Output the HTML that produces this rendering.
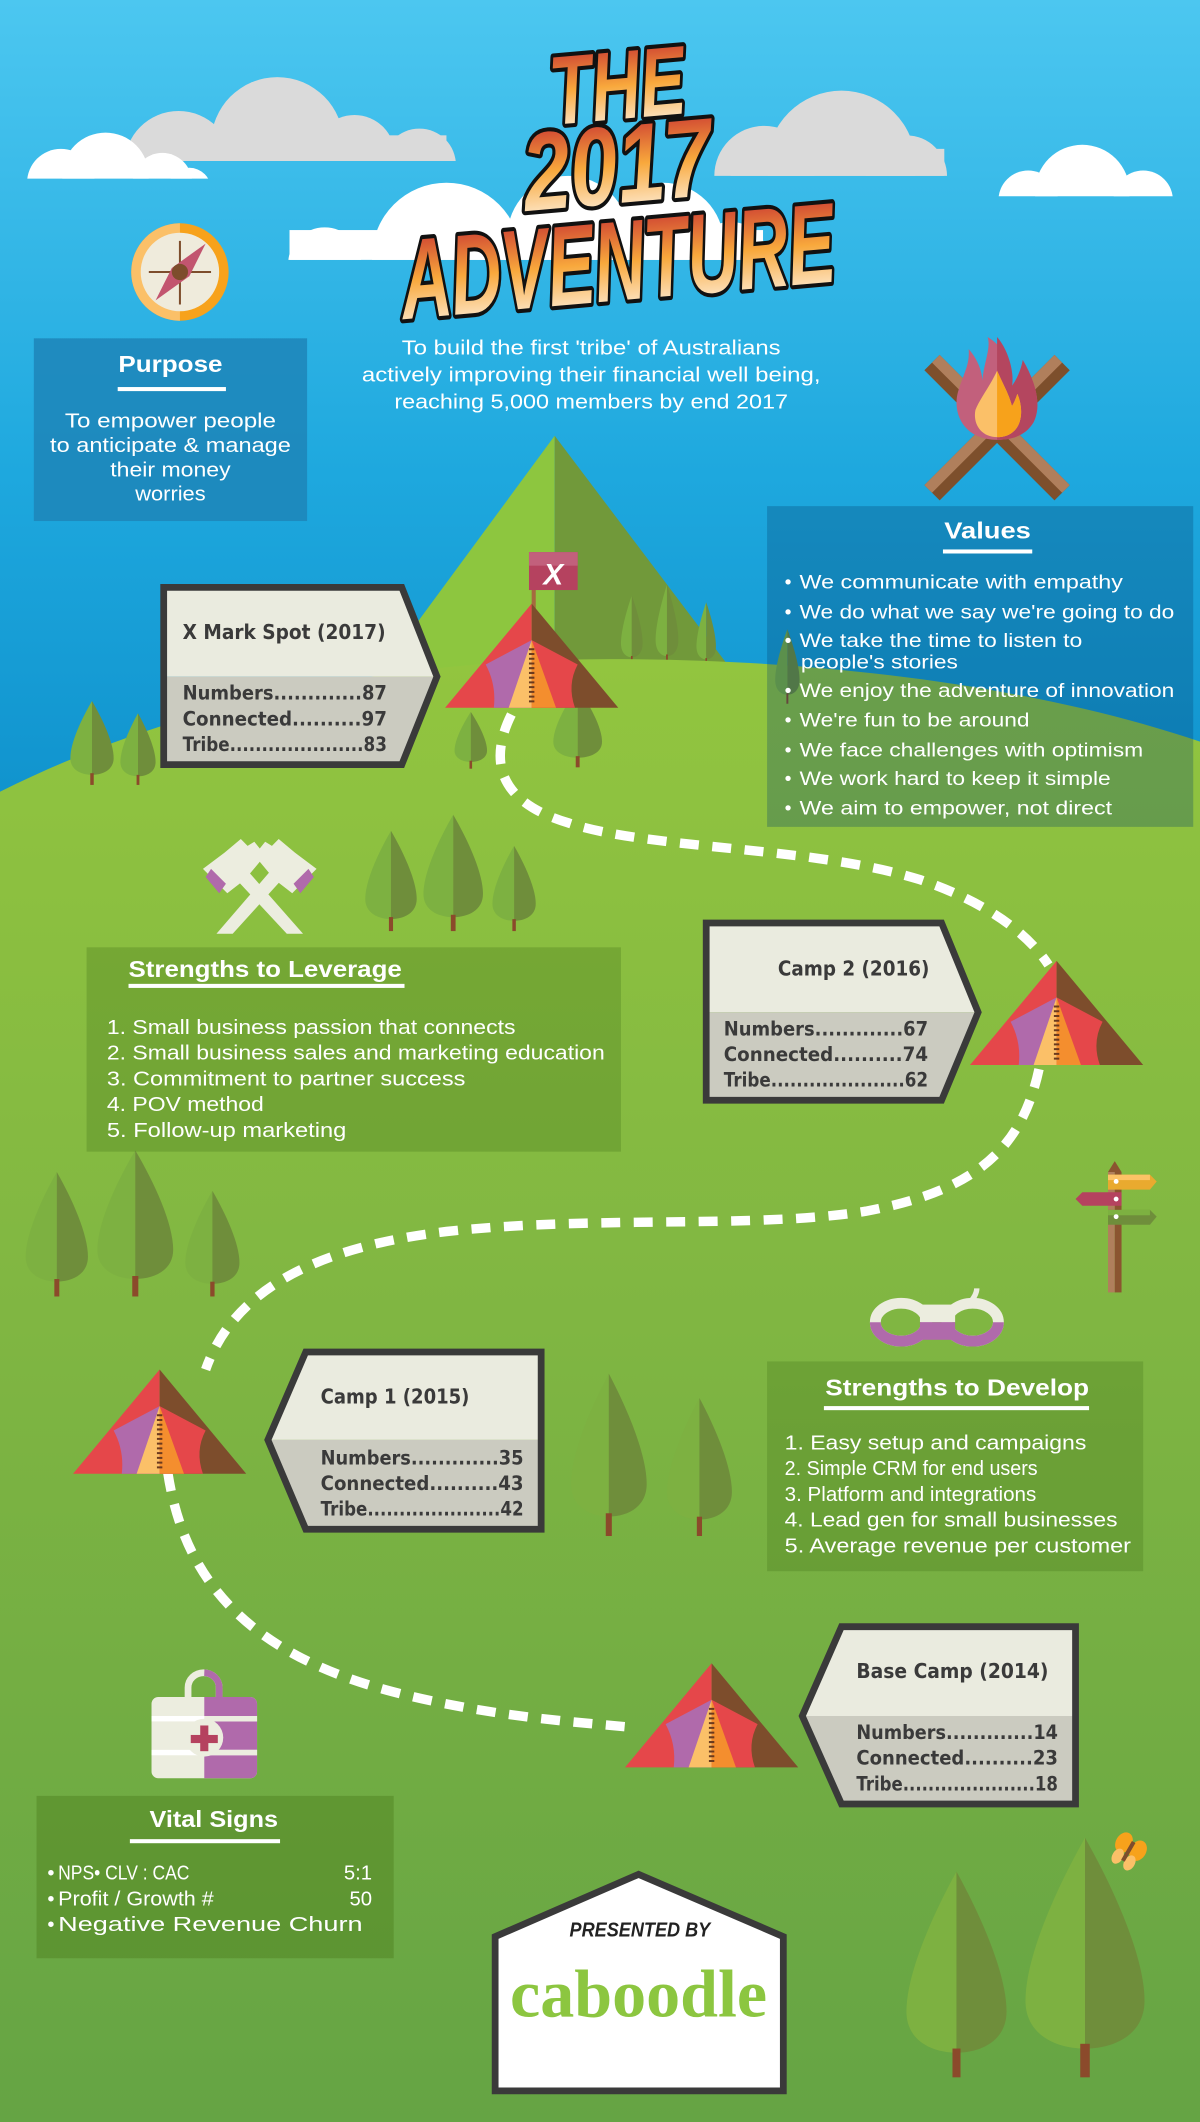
<!DOCTYPE html>
<html><head><meta charset="utf-8"><style>
html,body{margin:0;padding:0;width:1200px;height:2122px;overflow:hidden;background:#7bb342}
svg{display:block}
.w{fill:#fff;font-family:"Liberation Sans",sans-serif}
.s{fill:#3a3a3a;font-family:"DejaVu Sans","Liberation Sans",sans-serif;font-weight:bold}
</style></head><body>
<svg width="1200" height="2122" viewBox="0 0 887 1568" preserveAspectRatio="none" xmlns="http://www.w3.org/2000/svg">
<defs>
<linearGradient id="sky" x1="0" y1="0" x2="0" y2="1"><stop offset="0" stop-color="#4cc7f0"/><stop offset="0.5" stop-color="#1ea8de"/><stop offset="1" stop-color="#0a8ac6"/></linearGradient>
<linearGradient id="gr" x1="0" y1="0" x2="0" y2="1"><stop offset="0" stop-color="#92c53f"/><stop offset="0.45" stop-color="#80b642"/><stop offset="1" stop-color="#65a444"/></linearGradient>
<linearGradient id="tg" x1="0" y1="0" x2="0" y2="1"><stop offset="0" stop-color="#bf1e2e"/><stop offset="0.5" stop-color="#f8a83c"/><stop offset="1" stop-color="#ffffff"/></linearGradient>
<g id="tent">
<polygon points="64,0 0,77 64,77" fill="#e5474a"/>
<polygon points="64,0 128,77 64,77" fill="#7d4d2c"/>
<path d="M64,27 L98,45 Q90,60 96,77 L64,77Z" fill="#e5474a"/>
<path d="M64,27 L30,45 Q38,60 36,77 L64,77Z" fill="#b06aab"/>
<polygon points="64,27 47,77 64,77" fill="#fbc068"/>
<polygon points="64,27 64,77 82,77" fill="#f48e2e"/>
<line x1="64" y1="33" x2="64" y2="75" stroke="#6b3a1e" stroke-width="4" stroke-dasharray="1.5 2"/>
</g>
<g id="tree">
<path d="M0,0 C-10,22 -20,50 -20,68 C-20,82 -10,88 0,88Z" fill="#7db141"/>
<path d="M0,0 C10,22 20,50 20,68 C20,82 10,88 0,88Z" fill="#6f8e3b"/>
<rect x="-1.6" y="86" width="3.2" height="14" fill="#8b4a2b"/>
</g>
<clipPath id="c1"><rect x="0" y="0" width="887" height="119"/></clipPath>
<clipPath id="c2"><rect x="0" y="0" width="887" height="132"/></clipPath>
<clipPath id="c3"><rect x="0" y="0" width="887" height="130"/></clipPath>
<clipPath id="c4"><rect x="0" y="0" width="887" height="145"/></clipPath>
<clipPath id="c5"><rect x="0" y="0" width="887" height="192"/></clipPath>
</defs>

<rect x="0" y="0" width="887" height="700" fill="url(#sky)"/>

<!-- clouds -->
<g fill="#dadada" clip-path="url(#c1)"><circle cx="132" cy="122" r="40"/><circle cx="205" cy="106" r="49"/><circle cx="262" cy="115" r="30"/><circle cx="310" cy="122" r="27"/><rect x="120" y="100" width="210" height="30"/></g>
<g fill="#dadada" clip-path="url(#c3)"><circle cx="565" cy="130" r="37"/><circle cx="622" cy="122" r="55"/><circle cx="670" cy="130" r="30"/><rect x="540" y="110" width="158" height="30"/></g>
<g fill="#fff" clip-path="url(#c2)"><circle cx="45" cy="135" r="25"/><circle cx="78" cy="130" r="32"/><circle cx="120" cy="135" r="22"/><circle cx="140" cy="140" r="16"/></g>
<g fill="#fff" clip-path="url(#c4)"><circle cx="760" cy="148" r="22"/><circle cx="800" cy="142" r="35"/><circle cx="845" cy="148" r="22"/></g>
<g fill="#fff" clip-path="url(#c5)"><circle cx="240" cy="195" r="27"/><circle cx="330" cy="190" r="55"/><circle cx="420" cy="175" r="45"/><circle cx="490" cy="180" r="45"/><circle cx="540" cy="192" r="28"/><rect x="214" y="170" width="350" height="30"/></g>

<!-- title -->
<g font-family="'Liberation Sans',sans-serif" font-weight="900" font-style="italic" fill="url(#tg)" stroke="#111" stroke-width="6" paint-order="stroke" stroke-linejoin="round" text-anchor="middle">
<text x="456" y="88" font-size="72" textLength="100" lengthAdjust="spacingAndGlyphs" transform="rotate(-5 456 60)">THE</text>
<text x="456" y="150" font-size="82" textLength="140" lengthAdjust="spacingAndGlyphs" transform="rotate(-5 456 120)">2017</text>
<text x="456" y="222" font-size="84" textLength="322" lengthAdjust="spacingAndGlyphs" transform="rotate(-5 456 190)">ADVENTURE</text>
</g>

<!-- compass -->
<circle cx="133" cy="201" r="36" fill="#f7a21b"/>
<path d="M133,165 A36,36 0 0,0 133,237Z" fill="#fbc068"/>
<circle cx="133" cy="201" r="29" fill="#efebdc"/>
<line x1="133" y1="178" x2="133" y2="225" stroke="#7d4d2c" stroke-width="1.5"/>
<line x1="110" y1="201" x2="156" y2="201" stroke="#7d4d2c" stroke-width="1.5"/>
<polygon points="152,180 140,204 115,222 127,198" fill="#c2556f"/>
<circle cx="133" cy="201" r="6" fill="#7d4d2c"/>

<!-- purpose -->
<rect x="25" y="250" width="202" height="135" fill="#1d85b8" opacity="0.85"/>
<text class="w" x="126" y="275" font-size="17" font-weight="bold" text-anchor="middle" textLength="77" lengthAdjust="spacingAndGlyphs">Purpose</text>
<rect x="87" y="286" width="80" height="3" fill="#fff"/>
<g class="w" font-size="15" text-anchor="middle">
<text x="126" y="316" textLength="156" lengthAdjust="spacingAndGlyphs">To empower people</text>
<text x="126" y="334" textLength="178" lengthAdjust="spacingAndGlyphs">to anticipate &amp; manage</text>
<text x="126" y="352" textLength="89" lengthAdjust="spacingAndGlyphs">their money</text>
<text x="126" y="370" textLength="52" lengthAdjust="spacingAndGlyphs">worries</text>
</g>

<!-- mission -->
<g class="w" font-size="15" text-anchor="middle">
<text x="437" y="262" textLength="280" lengthAdjust="spacingAndGlyphs">To build the first 'tribe' of Australians</text>
<text x="437" y="282" textLength="339" lengthAdjust="spacingAndGlyphs">actively improving their financial well being,</text>
<text x="437" y="302" textLength="291" lengthAdjust="spacingAndGlyphs">reaching 5,000 members by end 2017</text>
</g>

<!-- fire -->
<g transform="translate(737,316) rotate(45)"><rect x="-68" y="-8" width="136" height="16" fill="#7d4f2c"/><rect x="-68" y="-8" width="136" height="8" fill="#b07f5c"/></g>
<g transform="translate(737,316) rotate(-45)"><rect x="-68" y="-8" width="136" height="16" fill="#7d4f2c"/><rect x="-68" y="-8" width="136" height="8" fill="#b07f5c"/></g>
<path d="M737,325 C712,325 704,305 708,290 C712,276 717,270 716,258 C725,268 727,280 726,285 C726,270 733,258 730,249 C745,258 750,275 748,285 C752,280 755,272 756,266 C766,283 770,300 764,312 C758,322 748,325 737,325Z" fill="#c2607c"/>
<path d="M737,325 L737,249 C745,258 750,275 748,285 C752,280 755,272 756,266 C766,283 770,300 764,312 C758,322 748,325 737,325Z" fill="#b4465f"/>
<path d="M737,323 C725,323 719,313 721,303 C724,295 732,285 737,274 C742,285 746,292 748,300 C750,297 751,294 752,291 C756,300 756,312 750,318 C746,322 742,323 737,323Z" fill="#fbc068"/>
<path d="M737,323 L737,274 C742,285 746,292 748,300 C750,297 751,294 752,291 C756,300 756,312 750,318 C746,322 742,323 737,323Z" fill="#f7a21b"/>

<!-- mountain -->
<polygon points="410,322 220,580 410,580" fill="#8dc63f"/>
<polygon points="410,322 620,600 410,600" fill="#71993a"/>
<use href="#tree" transform="translate(467,440) scale(0.4,0.52)"/>
<use href="#tree" transform="translate(493,432) scale(0.42,0.6)"/>
<use href="#tree" transform="translate(522,445) scale(0.36,0.48)"/>

<!-- hill -->
<path d="M0,585 C140,515 300,487 450,487 C640,487 790,515 887,548 L887,1568 L0,1568Z" fill="url(#gr)"/>

<use href="#tree" transform="translate(582,465) scale(0.45,0.55)"/>

<!-- values -->
<rect x="567" y="374" width="315" height="237" fill="#043c6a" opacity="0.28"/>
<text class="w" x="730" y="398" font-size="17" font-weight="bold" text-anchor="middle" textLength="64" lengthAdjust="spacingAndGlyphs">Values</text>
<rect x="697" y="406" width="66" height="3" fill="#fff"/>
<g class="w" font-size="14.5">
<text x="580" y="435">•</text><text x="591" y="435" textLength="239" lengthAdjust="spacingAndGlyphs">We communicate with empathy</text>
<text x="580" y="457">•</text><text x="591" y="457" textLength="277" lengthAdjust="spacingAndGlyphs">We do what we say we're going to do</text>
<text x="580" y="478">•</text><text x="591" y="478" textLength="209" lengthAdjust="spacingAndGlyphs">We take the time to listen to</text>
<text x="592" y="494" textLength="116" lengthAdjust="spacingAndGlyphs">people's stories</text>
<text x="580" y="515">•</text><text x="591" y="515" textLength="277" lengthAdjust="spacingAndGlyphs">We enjoy the adventure of innovation</text>
<text x="580" y="537">•</text><text x="591" y="537" textLength="170" lengthAdjust="spacingAndGlyphs">We're fun to be around</text>
<text x="580" y="559">•</text><text x="591" y="559" textLength="254" lengthAdjust="spacingAndGlyphs">We face challenges with optimism</text>
<text x="580" y="580">•</text><text x="591" y="580" textLength="230" lengthAdjust="spacingAndGlyphs">We work hard to keep it simple</text>
<text x="580" y="602">•</text><text x="591" y="602" textLength="231" lengthAdjust="spacingAndGlyphs">We aim to empower, not direct</text>
</g>

<!-- dashed path -->
<g fill="none" stroke="#fff" stroke-width="7" stroke-dasharray="14 10">
<path d="M378,528 C362,560 366,592 420,608 C480,628 600,625 680,650 C730,667 760,690 775,713"/>
<path d="M768,790 C755,850 720,880 640,895 C560,908 440,898 330,910 C230,922 172,955 152,1012"/>
<path d="M124,1088 C135,1160 175,1220 290,1250 C360,1268 420,1272 463,1276"/>
</g>

<!-- trees -->
<use href="#tree" transform="translate(68,518) scale(0.8,0.62)"/>
<use href="#tree" transform="translate(102,527) scale(0.65,0.53)"/>
<use href="#tree" transform="translate(348,526) scale(0.6,0.42)"/>
<use href="#tree" transform="translate(427,508) scale(0.9,0.59)"/>
<use href="#tree" transform="translate(289,614) scale(0.95,0.74)"/>
<use href="#tree" transform="translate(335,602) scale(1.1,0.86)"/>
<use href="#tree" transform="translate(380,625) scale(0.8,0.63)"/>
<use href="#tree" transform="translate(42,866) scale(1.15,0.92)"/>
<use href="#tree" transform="translate(100,850) scale(1.4,1.08)"/>
<use href="#tree" transform="translate(157,880) scale(1.0,0.78)"/>
<use href="#tree" transform="translate(450,1015) scale(1.4,1.2)"/>
<use href="#tree" transform="translate(517,1033) scale(1.2,1.02)"/>
<use href="#tree" transform="translate(707,1383) scale(1.85,1.52)"/>
<use href="#tree" transform="translate(802,1358) scale(2.2,1.77)"/>

<!-- tents -->
<line x1="394.5" y1="408" x2="394.5" y2="450" stroke="#a56a3f" stroke-width="3"/>
<rect x="391" y="408" width="36" height="28" fill="#b5425f"/>
<rect x="391" y="408" width="36" height="10" fill="#c2607c"/>
<text x="409" y="432" font-family="'Liberation Sans',sans-serif" font-weight="900" font-style="italic" font-size="22" fill="#fff" text-anchor="middle">X</text>
<use href="#tent" x="329" y="446"/>
<use href="#tent" x="717" y="710"/>
<use href="#tent" x="54" y="1012"/>
<use href="#tent" x="462" y="1229"/>

<!-- X Mark sign -->
<polygon points="121,434 297,434 323,500 121,500" fill="#eaebdf"/>
<polygon points="121,500 323,500 297,565 121,565" fill="#cbcbc0"/>
<polygon points="121,434 297,434 323,500 297,565 121,565" fill="none" stroke="#3a3a3a" stroke-width="5"/>
<text class="s" x="135" y="472" font-size="15" textLength="150" lengthAdjust="spacingAndGlyphs">X Mark Spot (2017)</text>
<g class="s" font-size="14.5">
<text x="135" y="517" textLength="151" lengthAdjust="spacingAndGlyphs">Numbers.............87</text>
<text x="135" y="536" textLength="151" lengthAdjust="spacingAndGlyphs">Connected..........97</text>
<text x="135" y="555" textLength="151" lengthAdjust="spacingAndGlyphs">Tribe.....................83</text>
</g>

<!-- Camp 2 sign -->
<polygon points="522,682 696,682 723,748 522,748" fill="#eaebdf"/>
<polygon points="522,748 723,748 696,813 522,813" fill="#cbcbc0"/>
<polygon points="522,682 696,682 723,748 696,813 522,813" fill="none" stroke="#3a3a3a" stroke-width="5"/>
<text class="s" x="575" y="721" font-size="15" textLength="112" lengthAdjust="spacingAndGlyphs">Camp 2 (2016)</text>
<g class="s" font-size="14.5">
<text x="535" y="765" textLength="151" lengthAdjust="spacingAndGlyphs">Numbers.............67</text>
<text x="535" y="784" textLength="151" lengthAdjust="spacingAndGlyphs">Connected..........74</text>
<text x="535" y="803" textLength="151" lengthAdjust="spacingAndGlyphs">Tribe.....................62</text>
</g>

<!-- Camp 1 sign -->
<polygon points="226,999 400,999 400,1064 198,1064" fill="#eaebdf"/>
<polygon points="198,1064 400,1064 400,1130 226,1130" fill="#cbcbc0"/>
<polygon points="226,999 400,999 400,1130 226,1130 198,1064" fill="none" stroke="#3a3a3a" stroke-width="5"/>
<text class="s" x="237" y="1037" font-size="15" textLength="110" lengthAdjust="spacingAndGlyphs">Camp 1 (2015)</text>
<g class="s" font-size="14.5">
<text x="237" y="1082" textLength="150" lengthAdjust="spacingAndGlyphs">Numbers.............35</text>
<text x="237" y="1101" textLength="150" lengthAdjust="spacingAndGlyphs">Connected..........43</text>
<text x="237" y="1120" textLength="150" lengthAdjust="spacingAndGlyphs">Tribe.....................42</text>
</g>

<!-- Base camp sign -->
<polygon points="622,1202 795,1202 795,1268 593,1268" fill="#eaebdf"/>
<polygon points="593,1268 795,1268 795,1333 622,1333" fill="#cbcbc0"/>
<polygon points="622,1202 795,1202 795,1333 622,1333 593,1268" fill="none" stroke="#3a3a3a" stroke-width="5"/>
<text class="s" x="633" y="1240" font-size="15" textLength="142" lengthAdjust="spacingAndGlyphs">Base Camp (2014)</text>
<g class="s" font-size="14.5">
<text x="633" y="1285" textLength="149" lengthAdjust="spacingAndGlyphs">Numbers.............14</text>
<text x="633" y="1304" textLength="149" lengthAdjust="spacingAndGlyphs">Connected..........23</text>
<text x="633" y="1323" textLength="149" lengthAdjust="spacingAndGlyphs">Tribe.....................18</text>
</g>

<!-- axes -->
<g fill="#eceddf">
<path d="M160,690 L203,640 L210,648 L172,690Z"/>
<path d="M224,690 L180,640 L173,648 L212,690Z"/>
<polygon points="166,630 178,620 183,625 188,622 196,632 181,650 168,660 150,642"/>
<polygon points="218,630 206,620 201,625 196,622 188,632 203,650 216,660 234,642"/>
</g>
<polygon points="156,642 167,653 162,660 152,648" fill="#b06aab"/>
<polygon points="228,642 217,653 222,660 232,648" fill="#b06aab"/>

<!-- strengths to leverage -->
<rect x="64" y="700" width="395" height="151" fill="#4d7f20" opacity="0.35"/>
<text class="w" x="95" y="722" font-size="17" font-weight="bold" textLength="202" lengthAdjust="spacingAndGlyphs">Strengths to Leverage</text>
<rect x="95" y="727" width="204" height="3" fill="#fff"/>
<g class="w" font-size="15">
<text x="79" y="764" textLength="302" lengthAdjust="spacingAndGlyphs">1.  Small business passion that connects</text>
<text x="79" y="783" textLength="368" lengthAdjust="spacingAndGlyphs">2. Small business sales and marketing education</text>
<text x="79" y="802" textLength="265" lengthAdjust="spacingAndGlyphs">3. Commitment to partner success</text>
<text x="79" y="821" textLength="116" lengthAdjust="spacingAndGlyphs">4. POV method</text>
<text x="79" y="840" textLength="177" lengthAdjust="spacingAndGlyphs">5. Follow-up marketing</text>
</g>

<!-- signpost -->
<rect x="819" y="866" width="5" height="89" fill="#b07f5c"/>
<rect x="824" y="866" width="5" height="89" fill="#8b5530"/>
<polygon points="819,866 824,858 829,866" fill="#8b5530"/>
<polygon points="819,868 850,868 855,873 850,879 819,879" fill="#e9aa2f"/>
<rect x="819" y="868" width="31" height="4" fill="#fcc366"/>
<polygon points="829,881 800,881 795,886 800,891 829,891" fill="#b5425f"/>
<polygon points="819,894 850,894 855,899 850,905 819,905" fill="#6f8e3b"/>
<rect x="819" y="894" width="31" height="4" fill="#7db141"/>
<circle cx="825" cy="873" r="1.8" fill="#fff"/><circle cx="825" cy="886" r="1.8" fill="#fff"/><circle cx="825" cy="899" r="1.8" fill="#fff"/>

<!-- rope -->
<g fill="none" stroke-width="8">
<ellipse cx="666" cy="977" rx="19" ry="14" stroke="#eceddf"/>
<ellipse cx="719" cy="977" rx="19" ry="14" stroke="#eceddf"/>
<path d="M647,977 A19,14 0 0,0 685,977" stroke="#b06aab"/>
<path d="M700,977 A19,14 0 0,0 738,977" stroke="#b06aab"/>
<path d="M715,964 C720,960 722,955 722,952" stroke="#eceddf" stroke-width="4"/>
</g>
<rect x="680" y="964" width="26" height="13" fill="#eceddf"/>
<rect x="680" y="977" width="26" height="13" fill="#b06aab"/>

<!-- strengths to develop -->
<rect x="567" y="1006" width="278" height="155" fill="#4d7f20" opacity="0.35"/>
<text class="w" x="610" y="1031" font-size="17" font-weight="bold" textLength="195" lengthAdjust="spacingAndGlyphs">Strengths to Develop</text>
<rect x="609" y="1039" width="196" height="3" fill="#fff"/>
<g class="w" font-size="15">
<text x="580" y="1071" textLength="223" lengthAdjust="spacingAndGlyphs">1.  Easy setup and campaigns</text>
<text x="580" y="1090" textLength="187" lengthAdjust="spacingAndGlyphs">2. Simple CRM for end users</text>
<text x="580" y="1109" textLength="186" lengthAdjust="spacingAndGlyphs">3. Platform and integrations</text>
<text x="580" y="1128" textLength="246" lengthAdjust="spacingAndGlyphs">4. Lead gen for small businesses</text>
<text x="580" y="1147" textLength="256" lengthAdjust="spacingAndGlyphs">5. Average revenue per customer</text>
</g>

<!-- med kit -->
<path d="M139,1254 L139,1247 A11.5,11 0 0,1 162,1247 L162,1254" fill="none" stroke="#eceddf" stroke-width="5"/>
<path d="M151,1236 A11.5,11 0 0,1 162,1247 L162,1254" fill="none" stroke="#b06aab" stroke-width="5"/>
<rect x="112" y="1254" width="78" height="60" rx="5" fill="#eceddf"/>
<path d="M151,1254 L185,1254 A5,5 0 0,1 190,1259 L190,1309 A5,5 0 0,1 185,1314 L151,1314Z" fill="#b06aab"/>
<rect x="112" y="1268" width="78" height="4" fill="#fff"/>
<rect x="151" y="1268" width="39" height="4" fill="#eceddf"/>
<rect x="112" y="1293" width="78" height="4" fill="#fff"/>
<rect x="151" y="1293" width="39" height="4" fill="#eceddf"/>
<circle cx="151" cy="1284" r="14" fill="#eceddf"/>
<rect x="148" y="1275" width="6" height="19" fill="#b5425f"/>
<rect x="141" y="1282" width="20" height="6" fill="#b5425f"/>

<!-- vital signs -->
<rect x="27" y="1327" width="264" height="120" fill="#4d7f20" opacity="0.45"/>
<text class="w" x="158" y="1350" font-size="17" font-weight="bold" text-anchor="middle" textLength="95" lengthAdjust="spacingAndGlyphs">Vital Signs</text>
<rect x="96" y="1359" width="111" height="3" fill="#fff"/>
<g class="w" font-size="15">
<text x="35" y="1389">•</text><text x="43" y="1389" textLength="97" lengthAdjust="spacingAndGlyphs">NPS• CLV : CAC</text>
<text x="275" y="1389" text-anchor="end">5:1</text>
<text x="35" y="1408">•</text><text x="43" y="1408" textLength="115" lengthAdjust="spacingAndGlyphs">Profit / Growth #</text>
<text x="275" y="1408" text-anchor="end">50</text>
<text x="35" y="1427">•</text><text x="43" y="1427" textLength="225" lengthAdjust="spacingAndGlyphs">Negative Revenue Churn</text>
</g>

<!-- presented by -->
<polygon points="366,1431 472,1385 579,1431 579,1545 366,1545" fill="#fff" stroke="#3a3a3a" stroke-width="5"/>
<text x="473" y="1431" font-family="'Liberation Sans',sans-serif" font-weight="900" font-style="italic" font-size="15" fill="#222" text-anchor="middle" textLength="104" lengthAdjust="spacingAndGlyphs">PRESENTED BY</text>
<text x="472" y="1490" font-family="'Liberation Serif',serif" font-weight="bold" font-size="50" fill="#8cc640" text-anchor="middle" textLength="190" lengthAdjust="spacingAndGlyphs">caboodle</text>

<!-- butterfly -->
<g transform="translate(834,1368) rotate(30)">
<ellipse cx="-6" cy="-4" rx="6" ry="8" fill="#f7a21b"/>
<ellipse cx="6" cy="-4" rx="6" ry="8" fill="#f7a21b"/>
<ellipse cx="-5" cy="7" rx="4" ry="6" fill="#fbc068"/>
<ellipse cx="5" cy="7" rx="4" ry="6" fill="#fbc068"/>
<rect x="-1.5" y="-8" width="3" height="16" fill="#7d4d2c"/>
</g>
</svg>
</body></html>
